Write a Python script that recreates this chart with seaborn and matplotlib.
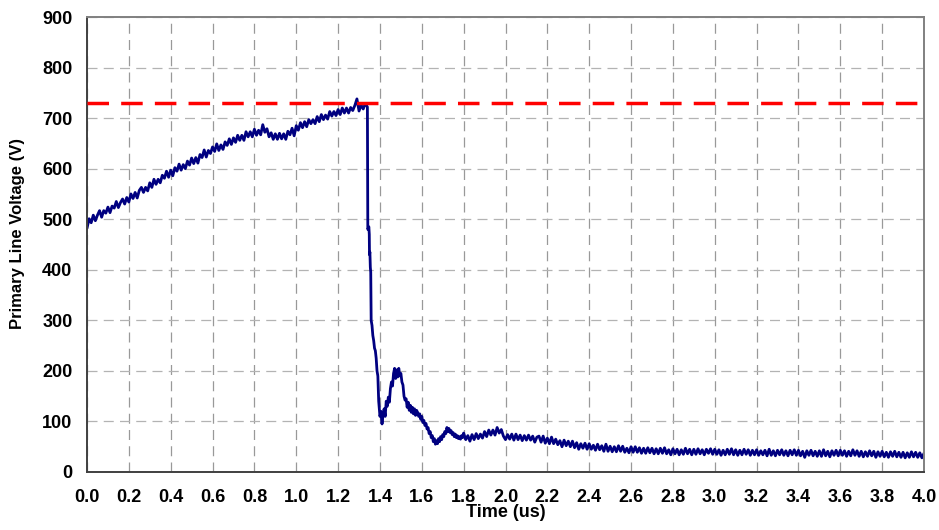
import numpy as np
import pandas as pd
import matplotlib
matplotlib.use("Agg")
import matplotlib.pyplot as plt
import seaborn as sns

# ---- data ----
# rising part, sampled every 0.01 us from 0.00 to 1.34
rise_t0, rise_dt = 0.00, 0.01
rise_v = [482, 501, 493, 508, 497, 508, 517, 504, 517, 512,
          524, 513, 526, 522, 535, 523, 533, 540, 530, 543,
          534, 550, 541, 553, 542, 557, 563, 553, 563, 556,
          572, 563, 579, 569, 579, 572, 587, 581, 595, 583,
          597, 586, 602, 595, 609, 597, 608, 600, 615, 607,
          621, 610, 622, 611, 628, 622, 637, 623, 636, 630,
          643, 634, 649, 636, 647, 638, 653, 646, 659, 648,
          661, 652, 666, 656, 666, 656, 673, 663, 673, 663,
          678, 666, 676, 667, 687, 672, 679, 663, 671, 658,
          669, 658, 670, 659, 669, 658, 674, 667, 680, 665,
          685, 676, 691, 681, 693, 683, 697, 689, 697, 689,
          703, 693, 707, 697, 706, 698, 713, 704, 713, 705,
          717, 707, 720, 710, 720, 710, 721, 715, 725, 738,
          714, 726, 718, 729, 722]

# collapse and ringing
drop_t = [1.342, 1.347, 1.349, 1.350, 1.352, 1.354, 1.356, 1.358, 1.362, 1.366,
          1.370, 1.374, 1.378, 1.382, 1.386, 1.390, 1.394, 1.400, 1.405, 1.410,
          1.415, 1.420, 1.425, 1.430, 1.435, 1.440, 1.445, 1.450, 1.455, 1.460,
          1.465, 1.470, 1.475, 1.480, 1.485, 1.490, 1.495, 1.500, 1.505, 1.510,
          1.515, 1.520, 1.525, 1.530, 1.535, 1.540, 1.545, 1.550, 1.555, 1.560,
          1.565, 1.570, 1.575, 1.580, 1.585, 1.590, 1.595, 1.600, 1.605, 1.610,
          1.615, 1.620, 1.625, 1.630, 1.635, 1.640, 1.645, 1.650, 1.655, 1.660,
          1.665, 1.670, 1.675, 1.680, 1.685, 1.690, 1.695, 1.700, 1.705, 1.710,
          1.715, 1.720, 1.725, 1.730, 1.735, 1.740, 1.745, 1.750, 1.755, 1.760,
          1.765, 1.770, 1.775, 1.780, 1.785, 1.790, 1.795]
drop_v = [480, 485, 470, 430, 435, 405, 395, 300, 290, 270,
          260, 245, 240, 225, 200, 190, 140, 110, 120, 95,
          115, 125, 110, 140, 130, 148, 138, 165, 178, 170,
          195, 205, 185, 202, 188, 205, 190, 195, 178, 172,
          150, 142, 145, 128, 138, 122, 132, 118, 128, 115,
          125, 112, 122, 118, 110, 115, 104, 110, 98, 102,
          92, 96, 85, 88, 76, 80, 68, 72, 60, 66,
          55, 62, 56, 66, 60, 70, 64, 74, 70, 80,
          76, 88, 80, 86, 78, 82, 74, 78, 70, 75,
          68, 72, 66, 70, 65, 72, 68]

# tail, sampled every 0.01 us from 1.80 to 4.00
tail_t0, tail_dt = 1.80, 0.01
tail_v = [77, 64, 72, 61, 74, 64, 76, 66, 75, 67,
          80, 70, 83, 73, 83, 73, 88, 77, 84, 71,
          64, 74, 65, 75, 63, 75, 64, 73, 62, 72,
          63, 73, 63, 71, 59, 69, 71, 59, 71, 57,
          67, 56, 69, 56, 65, 54, 62, 50, 63, 52,
          61, 50, 61, 48, 58, 45, 56, 47, 57, 45,
          56, 45, 53, 43, 55, 44, 52, 41, 55, 41,
          51, 40, 50, 40, 52, 41, 51, 39, 47, 38,
          50, 39, 50, 39, 48, 37, 47, 37, 48, 38,
          47, 36, 46, 36, 47, 37, 48, 36, 44, 34,
          46, 36, 45, 34, 44, 35, 47, 36, 45, 34,
          45, 35, 46, 36, 44, 34, 45, 37, 46, 35,
          45, 35, 44, 33, 43, 34, 45, 35, 46, 34,
          44, 33, 43, 34, 45, 35, 44, 33, 43, 34,
          44, 33, 42, 34, 43, 32, 45, 33, 42, 32,
          43, 34, 44, 33, 42, 32, 43, 34, 44, 33,
          43, 32, 41, 29, 42, 33, 43, 32, 41, 31,
          42, 31, 44, 32, 41, 30, 42, 33, 43, 32,
          43, 33, 42, 31, 41, 32, 44, 33, 42, 31,
          41, 30, 40, 31, 42, 32, 41, 29, 40, 31,
          41, 30, 39, 29, 40, 31, 41, 30, 39, 29,
          39, 28, 38, 29, 40, 30, 39, 29, 38, 28, 37]

threshold = 730
x_ticks = [0.0, 0.2, 0.4, 0.6, 0.8, 1.0, 1.2, 1.4, 1.6, 1.8, 2.0,
           2.2, 2.4, 2.6, 2.8, 3.0, 3.2, 3.4, 3.6, 3.8, 4.0]
y_ticks = [0, 100, 200, 300, 400, 500, 600, 700, 800, 900]
x_label = "Time (us)"
y_label = "Primary Line Voltage (V)"

# ---- assemble ----
rise_t = np.round(rise_t0 + rise_dt * np.arange(len(rise_v)), 4)
tail_t = np.round(tail_t0 + tail_dt * np.arange(len(tail_v)), 4)
df = pd.DataFrame({
    "t": np.concatenate([rise_t, drop_t, tail_t]),
    "v": np.concatenate([rise_v, drop_v, tail_v]),
})

sns.set_style("white")
plt.rcParams["font.family"] = ["Liberation Sans", "DejaVu Sans"]
plt.rcParams["text.color"] = "black"
plt.rcParams["axes.labelcolor"] = "black"
plt.rcParams["xtick.color"] = "black"
plt.rcParams["ytick.color"] = "black"

fig = plt.figure(figsize=(9.39, 5.30), dpi=100)
ax = fig.add_axes([87 / 939, 1 - 472 / 530, (924 - 87) / 939, (472 - 17) / 530])

ax.set_xlim(0, 4.0)
ax.set_ylim(0, 900)
ax.set_xticks(x_ticks)
ax.set_yticks(y_ticks)
ax.set_xticklabels([f"{v:.1f}" for v in x_ticks])
ax.set_yticklabels([str(v) for v in y_ticks])

ax.xaxis.grid(True, color="#999999", linestyle=(0, (8, 5)), linewidth=0.9)
ax.yaxis.grid(True, color="#b3b3b3", linestyle=(0, (8, 5)), linewidth=0.9)
ax.set_axisbelow(True)

sns.lineplot(data=df, x="t", y="v", ax=ax, estimator=None, sort=False,
             color="#000080", linewidth=2.0)

ax.axhline(threshold, color="#ff0000", linewidth=2.5,
           linestyle=(0, (6.2, 3.5)), zorder=3)

for side in ["left", "bottom"]:
    ax.spines[side].set_color("#404040")
    ax.spines[side].set_linewidth(1.4)
for side in ["top", "right"]:
    ax.spines[side].set_color("#808080")
    ax.spines[side].set_linewidth(1.4)

ax.tick_params(axis="both", which="major", direction="out", length=4.5,
               width=1.2, color="#404040", labelcolor="black",
               labelsize=13, pad=6)
ax.tick_params(axis="x", pad=7.5)
for lab in ax.get_xticklabels() + ax.get_yticklabels():
    lab.set_fontweight("bold")

ax.set_xlabel(x_label, fontsize=13, fontweight="bold", labelpad=-1,
              color="black")
ax.set_ylabel(y_label, fontsize=12, fontweight="bold", labelpad=9,
              color="black")
ax.yaxis.set_label_coords(-0.074, 0.525)

fig.savefig("out.png", dpi=100)
